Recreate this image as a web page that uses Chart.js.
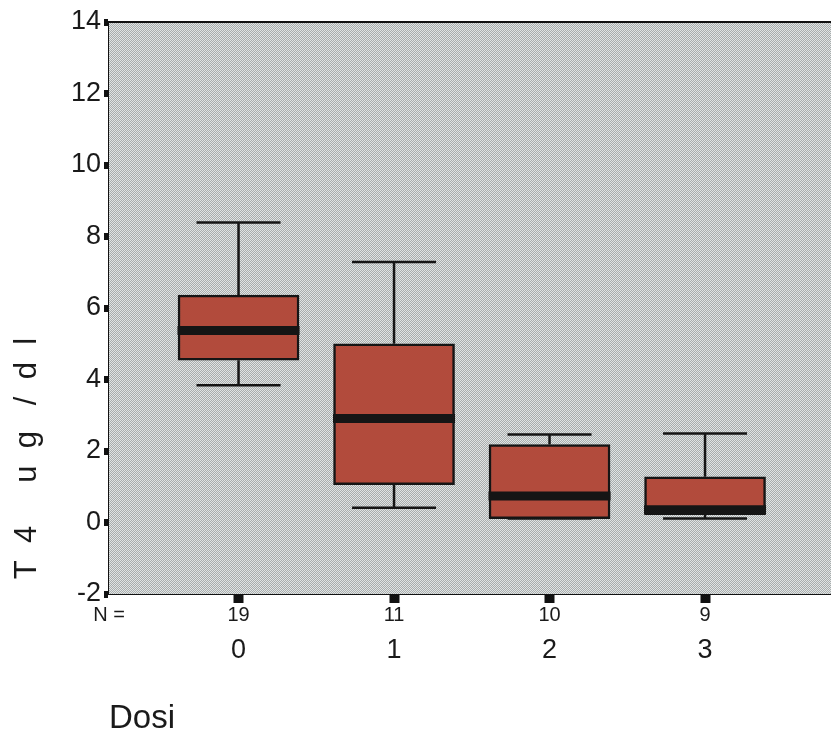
<!DOCTYPE html>
<html lang="it">
<head>
  <meta charset="UTF-8" />
  <title>T4 per dose</title>
  <script src="https://cdn.jsdelivr.net/npm/chart.js"></script>
  <style>
    body { margin: 0; background: #fff; }
  </style>
</head>
<body>
  <canvas id="boxChart" width="831" height="737"></canvas>

  <script>
    // values
    const doses = ['0', '1', '2', '3'];
    const nCounts = [19, 11, 10, 9];
    const whiskerHigh = [8.39, 7.29, 2.46, 2.49];
    const q3 = [6.36, 5.0, 2.18, 1.28];
    const median = [5.37, 2.91, 0.74, 0.36];
    const q1 = [4.54, 1.06, 0.11, 0.22];
    const whiskerLow = [3.84, 0.41, 0.11, 0.11];

    const X_MIN = -0.833;
    const X_MAX = 3.81;
    const FONT = "'Liberation Sans', Arial, sans-serif";

    // grey stipple like the original print
    function stipple(ctx) {
      const c = document.createElement('canvas');
      c.width = 2; c.height = 2;
      const g = c.getContext('2d');
      g.fillStyle = '#a8adad';
      g.fillRect(0, 0, 2, 2);
      g.fillStyle = '#e1e4e4';
      g.fillRect(0, 0, 1, 1);
      g.fillRect(1, 1, 1, 1);
      return ctx.createPattern(c, 'repeat');
    }

    const plotFrame = {
      id: 'plotFrame',
      beforeDatasetsDraw(chart) {
        const { ctx, chartArea: a } = chart;
        ctx.save();
        ctx.fillStyle = stipple(ctx);
        ctx.fillRect(a.left, a.top, a.right - a.left, a.bottom - a.top);
        ctx.strokeStyle = '#111';
        ctx.lineWidth = 2;
        ctx.beginPath();
        ctx.moveTo(a.left, a.top);
        ctx.lineTo(a.right, a.top);
        ctx.stroke();
        ctx.restore();
      }
    };

    const whiskers = {
      id: 'whiskers',
      afterDatasetsDraw(chart) {
        const { ctx } = chart;
        const x = chart.scales.x;
        const y = chart.scales.y;
        ctx.save();
        ctx.strokeStyle = '#151515';
        doses.forEach((d, i) => {
          const cx = x.getPixelForValue(i);
          ctx.lineWidth = 2.5;
          ctx.beginPath();
          ctx.moveTo(cx, y.getPixelForValue(whiskerHigh[i]));
          ctx.lineTo(cx, y.getPixelForValue(q3[i]));
          ctx.moveTo(cx, y.getPixelForValue(q1[i]));
          ctx.lineTo(cx, y.getPixelForValue(whiskerLow[i]));
          ctx.moveTo(cx - 42, y.getPixelForValue(whiskerHigh[i]));
          ctx.lineTo(cx + 42, y.getPixelForValue(whiskerHigh[i]));
          ctx.moveTo(cx - 42, y.getPixelForValue(whiskerLow[i]));
          ctx.lineTo(cx + 42, y.getPixelForValue(whiskerLow[i]));
          ctx.stroke();
          // median band
          ctx.lineWidth = 9;
          ctx.beginPath();
          ctx.moveTo(cx - 61, y.getPixelForValue(median[i]));
          ctx.lineTo(cx + 61, y.getPixelForValue(median[i]));
          ctx.stroke();
        });
        ctx.restore();
      }
    };

    const ctx = document.getElementById('boxChart').getContext('2d');
    new Chart(ctx, {
      type: 'bar',
      data: {
        datasets: [{
          label: 'T4',
          data: doses.map((d, i) => ({ x: i, y: [q1[i], q3[i]] })),
          backgroundColor: '#b24b3c',
          borderColor: '#151515',
          borderWidth: 2.5,
          borderSkipped: false,
          barThickness: 121,
          xAxisID: 'x',
          yAxisID: 'y'
        }]
      },
      options: {
        responsive: false,
        animation: false,
        layout: { padding: { top: 22, right: 0, bottom: 0, left: 0 } },
        plugins: {
          legend: { display: false },
          tooltip: { enabled: false }
        },
        scales: {
          y: {
            min: -2,
            max: 14,
            ticks: {
              stepSize: 2,
              color: '#1a1a1a',
              padding: 3,
              font: { family: FONT, size: 27 }
            },
            grid: {
              drawOnChartArea: false,
              tickLength: 5,
              tickWidth: 7,
              tickColor: '#111'
            },
            border: { display: true, color: '#111', width: 2 },
            title: {
              display: true,
              text: ' \u2009T  4     u  g   /  d  l',
              align: 'start',
              color: '#1a1a1a',
              padding: { top: 9, bottom: 0 },
              font: { family: FONT, size: 31, lineHeight: 1.2 }
            },
            afterFit(scale) { scale.width = 109; }
          },
          x: {
            type: 'linear',
            position: 'bottom',
            offset: false,
            min: X_MIN,
            max: X_MAX,
            afterBuildTicks(scale) {
              scale.ticks = [X_MIN, 0, 1, 2, 3].map(v => ({ value: v }));
            },
            ticks: {
              autoSkip: false,
              maxRotation: 0,
              padding: 0,
              color: '#1a1a1a',
              font: { family: FONT, size: 20 },
              callback: (v, i) => (i === 0 ? 'N =' : String(nCounts[i - 1]))
            },
            grid: {
              offset: false,
              drawOnChartArea: false,
              tickLength: 9,
              tickWidth: 10,
              tickColor: c => (c.index === 0 ? 'rgba(0,0,0,0)' : '#111')
            },
            border: { display: true, color: '#111', width: 2 },
            afterFit(scale) { scale.height = 30; }
          },
          x2: {
            type: 'linear',
            position: 'bottom',
            weight: 1,
            offset: false,
            min: X_MIN,
            max: X_MAX,
            afterBuildTicks(scale) {
              scale.ticks = [0, 1, 2, 3].map(v => ({ value: v }));
            },
            ticks: {
              autoSkip: false,
              maxRotation: 0,
              padding: 2,
              color: '#1a1a1a',
              font: { family: FONT, size: 27 },
              callback: (v, i) => doses[i]
            },
            grid: { display: false, offset: false },
            border: { display: false },
            title: {
              display: true,
              text: 'Dosi',
              align: 'start',
              color: '#1a1a1a',
              padding: { top: 0, bottom: 2 },
              font: { family: FONT, size: 33, lineHeight: 1.0 }
            },
            afterFit(scale) { scale.height = 113; }
          }
        }
      },
      plugins: [plotFrame, whiskers]
    });
  </script>
</body>
</html>
